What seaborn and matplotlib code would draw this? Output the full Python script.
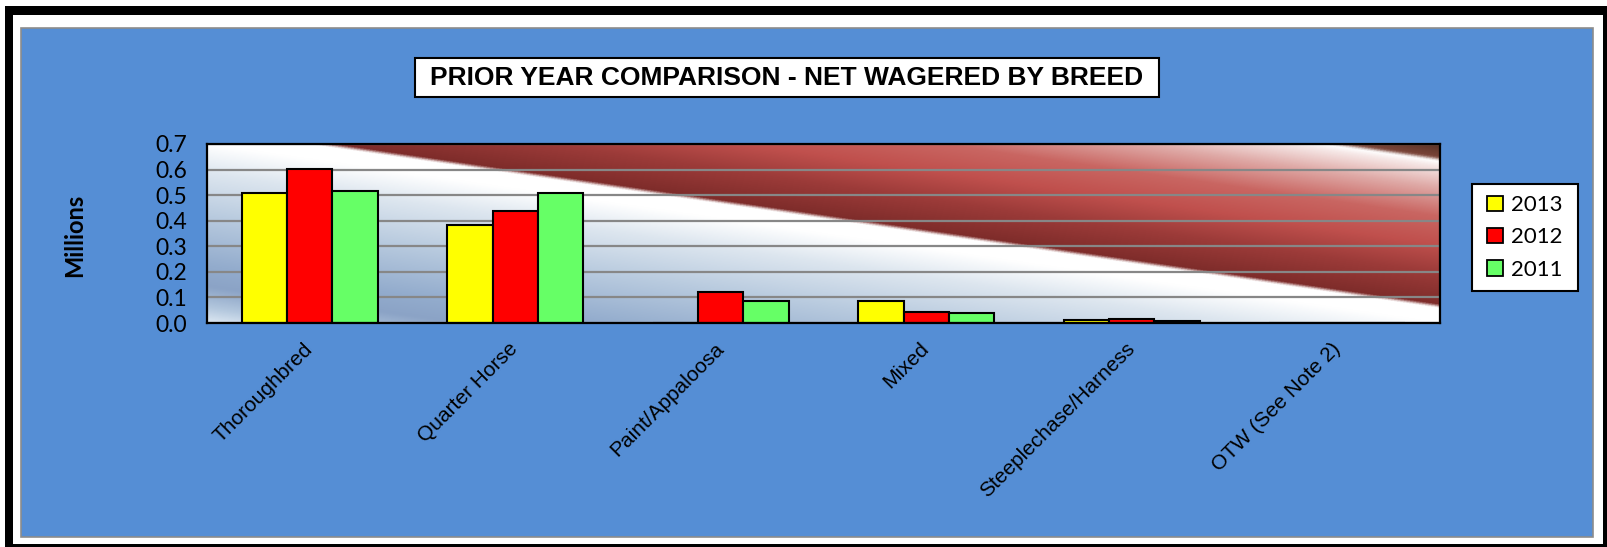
import matplotlib
matplotlib.use("Agg")
import matplotlib.pyplot as plt
import numpy as np
import pandas as pd
import seaborn as sns
from matplotlib.colors import LinearSegmentedColormap
from matplotlib.patches import Patch, Rectangle
from matplotlib.transforms import ScaledTranslation

# data (millions)
breeds = ["Thoroughbred", "Quarter Horse", "Paint/Appaloosa", "Mixed",
          "Steeplechase/Harness", "OTW (See Note 2)"]
years = ["2013", "2012", "2011"]
net_2013 = [0.510, 0.385, 0.0, 0.087, 0.012, 0.0]
net_2012 = [0.602, 0.439, 0.121, 0.043, 0.017, 0.0]
net_2011 = [0.517, 0.507, 0.085, 0.038, 0.008, 0.0]
bar_colors = ["#FFFF00", "#FF0000", "#66FF66"]
title = "PRIOR YEAR COMPARISON - NET WAGERED BY BREED"

W, H = 1608, 547


def fx(px):
    return px / W


def fy(py):
    return 1 - py / H


df = pd.DataFrame({
    "breed": breeds * 3,
    "year": [y for y in years for _ in breeds],
    "value": net_2013 + net_2012 + net_2011,
})

sns.set_style("white")
plt.rcParams.update({"text.color": "black", "axes.labelcolor": "black",
                     "xtick.color": "black", "ytick.color": "black"})
fig = plt.figure(figsize=(W / 100, H / 100), dpi=100)
fig.patch.set_facecolor("white")

# frame: black outer border, blue chart area
for x0, y0, x1, y1 in [(5, 6, 1608, 15), (5, 6, 13, 547), (1603, 6, 1608, 547), (5, 544, 1608, 547)]:
    fig.patches.append(Rectangle((fx(x0), fy(y1)), fx(x1) - fx(x0), fy(y0) - fy(y1),
                                 transform=fig.transFigure, facecolor="black",
                                 edgecolor="none", zorder=-2))
fig.patches.append(Rectangle((fx(21), fy(537)), fx(1593) - fx(21), fy(28) - fy(537),
                             transform=fig.transFigure, facecolor="#558ED5",
                             edgecolor="#8C8C8C", linewidth=1.2, zorder=-1))

ax = fig.add_axes([fx(207), fy(323), fx(1440) - fx(207), fy(144) - fy(323)])

# diagonal gradient fill of the plot area
grad = LinearSegmentedColormap.from_list("plotfill", [
    (0.0, "#DCE7F2"), (0.04, "#B4C8DE"), (0.10, "#8BA3C6"), (0.16, "#93ACCD"),
    (0.30, "#B9CBDF"), (0.42, "#DDE6EF"), (0.50, "#FFFFFF"), (0.543, "#FFFFFF"),
    (0.552, "#7E2C2A"), (0.64, "#9C3B39"), (0.72, "#C0504D"), (0.80, "#C96662"),
    (0.88, "#DFAAA7"), (0.94, "#F6E8E7"), (0.955, "#FFFFFF"), (0.966, "#7A4438"),
    (1.0, "#5A3428"),
])
U, V = np.meshgrid(np.linspace(0, 1, 1400), np.linspace(0, 1, 400))
ax.imshow((U + V) / 2, cmap=grad, origin="lower", extent=(-0.5, 5.5, 0, 0.7),
          aspect="auto", vmin=0, vmax=1, interpolation="bilinear", zorder=0)

sns.barplot(data=df, x="breed", y="value", hue="year", hue_order=years,
            palette=bar_colors, saturation=1, width=0.66, edgecolor="black",
            linewidth=1.5, errorbar=None, ax=ax, zorder=2)
ax.get_legend().remove()

ax.set_xlim(-0.5, 5.5)
ax.set_ylim(0, 0.7)
ax.set_yticks(np.arange(0, 0.71, 0.1))
ax.set_yticklabels([f"{t:.1f}" for t in np.arange(0, 0.71, 0.1)],
                   fontfamily="Lato", fontsize=16.5, color="black")
ax.yaxis.grid(True, color="#878787", linewidth=1.6)
ax.set_axisbelow(True)
ax.tick_params(axis="y", direction="out", length=6.5, width=1.5, pad=8, colors="black")

ax.set_xticks(range(len(breeds)))
ax.set_xticklabels(breeds, rotation=45, ha="right", va="center",
                   rotation_mode="anchor", fontfamily="Liberation Sans",
                   fontsize=15, color="black")
shift = ScaledTranslation(5 / 100, 0, fig.dpi_scale_trans)
for lab in ax.get_xticklabels():
    lab.set_transform(lab.get_transform() + shift)
ax.set_xticks(np.arange(-0.5, 5.6, 1), minor=True)
ax.tick_params(axis="x", which="major", length=0, pad=16.5)
ax.tick_params(axis="x", which="minor", direction="out", length=5, width=1.5)
ax.set_xlabel("")
ax.set_ylabel("")
for s in ax.spines.values():
    s.set_visible(True)
    s.set_color("black")
    s.set_linewidth(1.6)

fig.text(fx(75), fy(235), "Millions", rotation=90, ha="center", va="center",
         fontfamily="Lato", fontweight="bold", fontsize=17, color="black")

# title box
fig.patches.append(Rectangle((fx(415), fy(97)), fx(1159) - fx(415), fy(58) - fy(97),
                             transform=fig.transFigure, facecolor="white",
                             edgecolor="black", linewidth=1.5, zorder=1))
fig.text(fx(787), fy(78), title, ha="center", va="center", fontfamily="Liberation Sans",
         fontweight="bold", fontsize=19, color="black", zorder=2)

# legend box
fig.patches.append(Rectangle((fx(1472), fy(291)), fx(1578) - fx(1472), fy(184) - fy(291),
                             transform=fig.transFigure, facecolor="white",
                             edgecolor="black", linewidth=1.5, zorder=4))
handles = [Patch(facecolor=c, edgecolor="black", linewidth=1.3) for c in bar_colors]
leg = fig.legend(handles, years, loc="center", bbox_to_anchor=(fx(1525), fy(237.5)),
                 frameon=False, prop={"family": "Lato", "size": 16},
                 handlelength=0.7, handleheight=0.7, handletextpad=0.4,
                 labelspacing=0.55, borderpad=0)
leg.set_zorder(5)

fig.savefig("out.png", dpi=100)
